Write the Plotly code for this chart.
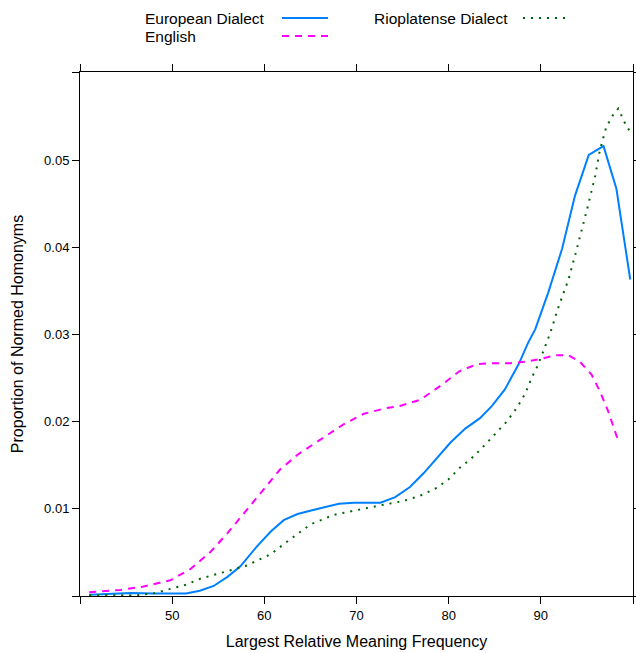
import plotly.graph_objects as go

# European Dialect
eu_x = [41.0, 43.0, 45.5, 48.0, 50.0, 51.5, 53.0, 54.5, 56.0, 57.4, 59.2, 60.7, 62.1, 63.6, 65.4, 67.0,
        68.1, 69.7, 71.0, 72.6, 74.2, 75.8, 77.3, 78.7, 80.2, 81.8, 83.4, 84.7, 86.1, 87.6, 88.6, 89.4,
        90.8, 92.3, 93.7, 95.2, 96.8, 98.2, 99.7]
eu_y = [0.00015, 0.00025, 0.00034, 0.0003, 0.00027, 0.0003, 0.0006, 0.00115, 0.0022, 0.0034, 0.0057,
        0.0074, 0.0087, 0.0094, 0.0099, 0.0103, 0.01057, 0.0107, 0.0107, 0.0107, 0.01134, 0.0125, 0.0141,
        0.0158, 0.0176, 0.0192, 0.0204, 0.0218, 0.0237, 0.0266, 0.029, 0.0306, 0.0348, 0.0398, 0.0459,
        0.0506, 0.0516, 0.0467, 0.0363]

# English
en_x = [41.0, 44.4, 46.8, 49.8, 52.0, 54.2, 56.0, 57.8, 59.8, 61.7, 63.6, 66.1, 68.6, 70.8, 73.0, 74.7,
        76.9, 79.1, 81.2, 83.1, 84.9, 86.7, 88.5, 90.0, 91.5, 93.0, 94.2, 95.5, 96.4, 97.3, 98.4]
en_y = [0.00042, 0.0007, 0.00107, 0.0018, 0.0031, 0.0051, 0.0072, 0.0095, 0.012, 0.0145, 0.0162, 0.0179,
        0.0197, 0.0209, 0.0215, 0.0218, 0.0225, 0.0241, 0.0258, 0.0266, 0.0267, 0.0267, 0.0269, 0.0272,
        0.0276, 0.0276, 0.0269, 0.0254, 0.0235, 0.0212, 0.0178]

# Rioplatense Dialect
rp_x = [41.0, 43.5, 46.2, 48.0, 49.8, 51.5, 53.1, 54.9, 56.5, 58.1, 59.8, 60.7, 62.8, 65.0, 67.5, 70.1,
        72.6, 75.1, 76.9, 78.7, 80.0, 81.2, 82.7, 84.0, 85.2, 86.3, 87.4, 88.3, 89.0, 89.6, 90.1, 91.0,
        91.9, 93.0, 93.7, 94.4, 95.1, 95.9, 96.4, 97.1, 97.9, 98.4, 99.1, 99.6]
rp_y = [0.0001, 0.0001, 0.0001, 0.0003, 0.00084, 0.0013, 0.002, 0.0025, 0.003, 0.0035, 0.0043, 0.0048,
        0.0065, 0.0082, 0.0093, 0.0099, 0.0104, 0.0109, 0.0115, 0.0124, 0.0134, 0.0147, 0.016, 0.0174,
        0.0187, 0.02, 0.0216, 0.0232, 0.025, 0.0263, 0.0276, 0.0301, 0.0331, 0.0363, 0.039, 0.0417,
        0.0447, 0.0482, 0.0511, 0.0538, 0.0553, 0.0559, 0.0543, 0.0534]

series_names = ["European Dialect", "English", "Rioplatense Dialect"]
x_ticks = [40, 50, 60, 70, 80, 90, 100]
x_labels = ["", "50", "60", "70", "80", "90", ""]
y_ticks = [0, 0.01, 0.02, 0.03, 0.04, 0.05, 0.06]
y_labels = ["", "0.01", "0.02", "0.03", "0.04", "0.05", ""]

BLUE = "#0080ff"
MAG = "#ff00ff"
GRN = "#006400"
FONT = "Liberation Sans, Arial, sans-serif"

fig = go.Figure()
fig.add_trace(go.Scatter(x=eu_x, y=eu_y, mode="lines", name=series_names[0],
                         line=dict(color=BLUE, width=2)))
fig.add_trace(go.Scatter(x=en_x, y=en_y, mode="lines", name=series_names[1],
                         line=dict(color=MAG, width=2, dash="7px,6px")))
fig.add_trace(go.Scatter(x=rp_x, y=rp_y, mode="lines", name=series_names[2],
                         line=dict(color=GRN, width=2, dash="2px,6px")))

W, H = 636, 653
L, R, T, B = 80, 3, 72, 57
pw, ph = W - L - R, H - T - B


def px(x):  # page pixel -> paper x
    return (x - L) / pw


def py(y):  # page pixel -> paper y
    return (H - B - y) / ph


# manual legend (text left of key, as in lattice)
leg = [
    (series_names[0], 143, 18, 282, 328, dict(color=BLUE, width=2)),
    (series_names[1], 143, 36, 282, 328, dict(color=MAG, width=2, dash="7px,6px")),
    (series_names[2], 372, 18, 523, 568, dict(color=GRN, width=2, dash="2px,6px")),
]
for name, tx, ty, lx0, lx1, ln in leg:
    fig.add_annotation(x=px(tx), y=py(ty), xref="paper", yref="paper", text=name,
                       showarrow=False, xanchor="left", yanchor="middle",
                       font=dict(size=15.5, color="#000", family=FONT))
    fig.add_shape(type="line", xref="paper", yref="paper", x0=px(lx0), x1=px(lx1),
                  y0=py(ty), y1=py(ty), line=ln)

axis_common = dict(showgrid=False, zeroline=False, showline=True, linecolor="#000", linewidth=1,
                   ticks="outside", ticklen=7, tickwidth=1, tickcolor="#000", mirror="allticks",
                   automargin=False,
                   tickfont=dict(size=13, color="#000", family=FONT))

fig.update_layout(
    width=W, height=H,
    margin=dict(l=L, r=R, t=T, b=B),
    paper_bgcolor="white", plot_bgcolor="white",
    showlegend=False,
    font=dict(family=FONT, color="#000"),
    xaxis=dict(range=[40, 100], tickmode="array", tickvals=x_ticks, ticktext=x_labels,
               title=dict(text="Largest Relative Meaning Frequency", font=dict(size=16), standoff=14),
               **axis_common),
    yaxis=dict(range=[0, 0.0601], tickmode="array", tickvals=y_ticks, ticktext=y_labels,
               title=dict(text="Proportion of Normed Homonyms", font=dict(size=16), standoff=16),
               **axis_common),
)

# remove the browser's default 8px page margin so the figure sits at the window origin
fig.write_html("out.html",
               config={"displayModeBar": False},
               post_script="document.body.style.margin='0';document.body.style.overflow='hidden';")
